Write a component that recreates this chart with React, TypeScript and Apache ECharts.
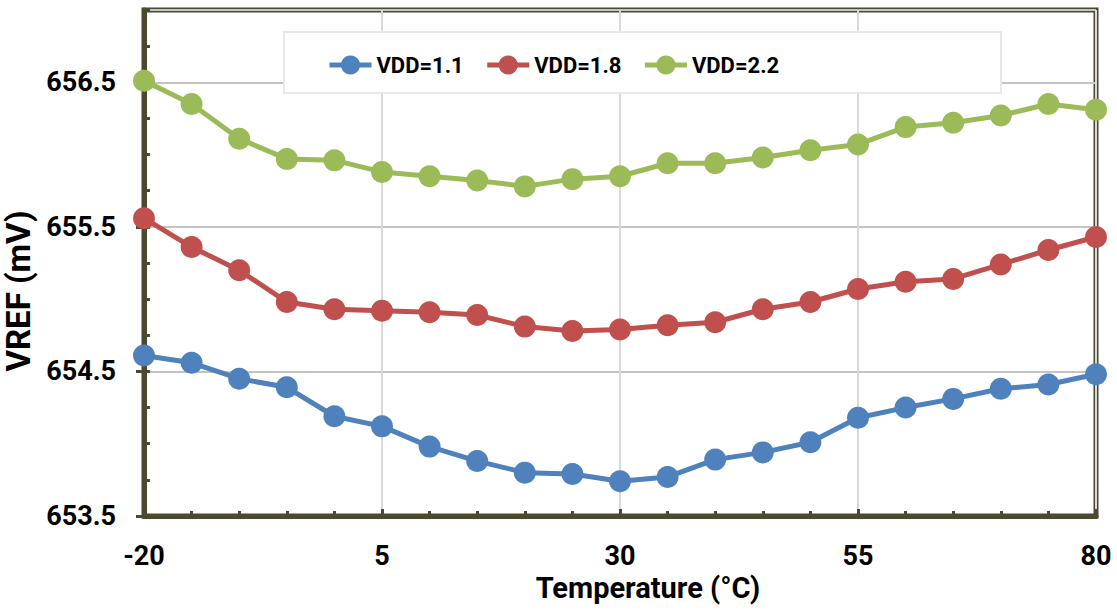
import React, { useEffect, useRef } from "react";
import * as echarts from "echarts";

const temperatures = [-20, -15, -10, -5, 0, 5, 10, 15, 20, 25, 30, 35, 40, 45, 50, 55, 60, 65, 70, 75, 80];
const vdd11 = [654.61, 654.56, 654.45, 654.39, 654.19, 654.12, 653.98, 653.88, 653.80, 653.79, 653.74, 653.77, 653.89, 653.94, 654.01, 654.18, 654.25, 654.31, 654.38, 654.41, 654.48];
const vdd18 = [655.56, 655.36, 655.20, 654.98, 654.93, 654.92, 654.91, 654.89, 654.81, 654.78, 654.79, 654.82, 654.84, 654.93, 654.98, 655.07, 655.12, 655.14, 655.24, 655.34, 655.43];
const vdd22 = [656.51, 656.35, 656.11, 655.97, 655.96, 655.88, 655.85, 655.82, 655.78, 655.83, 655.85, 655.94, 655.94, 655.98, 656.03, 656.07, 656.19, 656.22, 656.27, 656.35, 656.31];
const seriesNames = ["VDD=1.1", "VDD=1.8", "VDD=2.2"];
const seriesColors = ["#4f81bd", "#c0504d", "#9bbb59"];

const FONT = "Roboto, 'Liberation Sans', sans-serif";
const FRAME = "#4d4930";

export default function App() {
  const ref = useRef<HTMLDivElement>(null);
  useEffect(() => {
    if (!ref.current) return;
    const chart = echarts.init(ref.current, undefined, { renderer: "svg" });
    const datasets = [vdd11, vdd18, vdd22];
    chart.setOption({
      animation: false,
      backgroundColor: "#ffffff",
      grid: {
        left: 144,
        right: 21,
        top: 10,
        bottom: 97,
        containLabel: false,
        outerBoundsMode: "none",
        show: true,
        borderColor: FRAME,
        borderWidth: 5,
        backgroundColor: "transparent",
      },
      graphic: [
        {
          type: "rect",
          z: 3,
          shape: { x: 284, y: 32, width: 717, height: 61 },
          style: { fill: "#ffffff", stroke: "#e8e8e8", lineWidth: 2 },
        },
      ],
      legend: {
        left: 322,
        top: 49,
        z: 5,
        itemWidth: 42,
        itemHeight: 24,
        itemGap: 21,
        lineStyle: { width: 5 },
        textStyle: { fontFamily: FONT, fontWeight: "bold", fontSize: 22, color: "#000" },
        data: seriesNames,
      },
      xAxis: {
        type: "value",
        min: -20,
        max: 80,
        interval: 25,
        name: "Temperature (°C)",
        nameLocation: "middle",
        nameGap: 56,
        nameTextStyle: { fontFamily: FONT, fontWeight: "bold", fontSize: 29, color: "#000", padding: [0, 0, 0, 56] },
        axisLine: { show: true, onZero: false, lineStyle: { color: FRAME, width: 5 } },
        axisTick: { show: true, inside: true, length: 7, lineStyle: { color: FRAME, width: 3 } },
        minorTick: { show: true, splitNumber: 5, length: 5, lineStyle: { color: FRAME, width: 3 } },
        axisLabel: { fontFamily: FONT, fontWeight: "bold", fontSize: 27, color: "#000", margin: 26 },
        splitLine: { show: true, lineStyle: { color: "#d9d9d9", width: 2 } },
      },
      yAxis: [
        {
          type: "value",
          min: 653.5,
          max: 657,
          interval: 1,
          name: "VREF (mV)",
          nameLocation: "middle",
          nameGap: 94,
          nameTextStyle: { fontFamily: FONT, fontWeight: "bold", fontSize: 33, color: "#000", padding: [0, 56, 0, 0] },
          axisLine: { show: true, onZero: false, lineStyle: { color: FRAME, width: 5 } },
          axisTick: { show: true, inside: false, length: 8, lineStyle: { color: FRAME, width: 3 } },
          axisLabel: {
            fontFamily: FONT,
            fontWeight: "bold",
            fontSize: 27,
            color: "#000",
            margin: 28,
            showMaxLabel: false,
            formatter: (v: number) => (Math.abs(v - 657) < 1e-6 ? "" : v.toFixed(1)),
          },
          splitLine: { show: true, lineStyle: { color: "#c4c4c4", width: 2 } },
        },
        {
          type: "value",
          position: "left",
          min: 653.5,
          max: 657,
          interval: 0.25,
          axisLine: { show: false, onZero: false },
          axisTick: { show: true, inside: true, length: 6, lineStyle: { color: FRAME, width: 3 } },
          axisLabel: { show: false },
          splitLine: { show: false },
        },
      ],
      series: datasets.map((d, i) => ({
        name: seriesNames[i],
        type: "line",
        yAxisIndex: 0,
        data: temperatures.map((t, j) => [t, d[j]]),
        symbol: "circle",
        symbolSize: 22,
        z: 4,
        itemStyle: { color: seriesColors[i] },
        lineStyle: { color: seriesColors[i], width: 5 },
      })),
    });
    return () => chart.dispose();
  }, []);
  return <div ref={ref} style={{ width: 1117, height: 613, position: "absolute", left: 0, top: 0 }} />;
}
